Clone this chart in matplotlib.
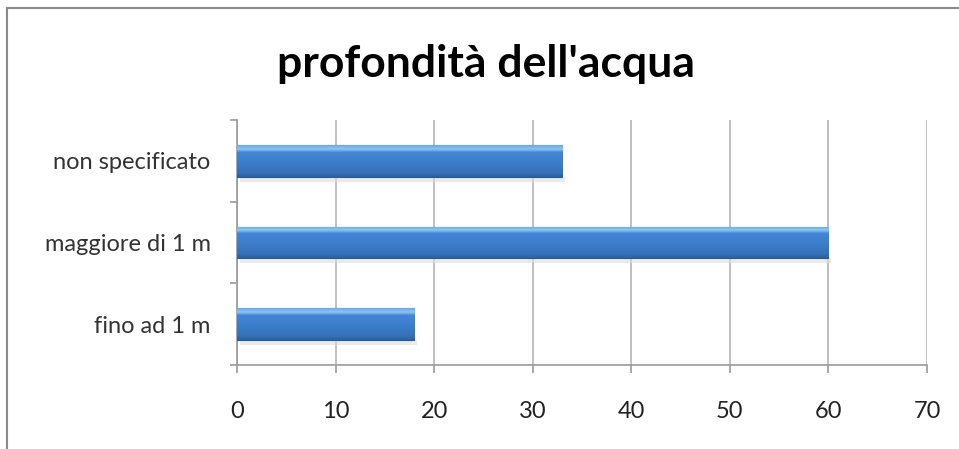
import matplotlib
matplotlib.use("Agg")
import matplotlib.pyplot as plt
import numpy as np
from matplotlib.colors import LinearSegmentedColormap
from matplotlib.lines import Line2D

categories = ["fino ad 1 m", "maggiore di 1 m", "non specificato"]
values = [18, 60, 33]
xticks = [0, 10, 20, 30, 40, 50, 60, 70]
title = "profondità dell'acqua"

plt.rcParams['font.family'] = ['Lato', 'DejaVu Sans']

fig = plt.figure(figsize=(9.59, 4.49), dpi=100)
ax = fig.add_axes([0.2471, 0.187, 0.7195, 0.546])

ypos = np.arange(len(categories))
bars = ax.barh(ypos, values, height=0.39, color='#3d7ccb', edgecolor='#2a5a92',
               linewidth=0.8, zorder=3)

cmap = LinearSegmentedColormap.from_list('bar', [
    (0.0, '#2d5f9e'), (0.12, '#3570b8'), (0.5, '#3e7fcd'),
    (0.78, '#4586d4'), (0.88, '#8cc6f4'), (1.0, '#6aa8e6')])
grad = np.linspace(0, 1, 64).reshape(-1, 1)
for b in bars:
    x0, y0 = b.get_x(), b.get_y()
    w, h = b.get_width(), b.get_height()
    im = ax.imshow(grad, cmap=cmap, origin='lower', aspect='auto',
                   extent=(x0, x0 + w, y0, y0 + h), zorder=3.5)
    im.set_clip_path(b)
    # subtle shadow
    ax.add_patch(plt.Rectangle((x0 + 0.3, y0 - 0.06), w, 0.06,
                               facecolor='#dcdcdc', edgecolor='none', alpha=0.6, zorder=2.5))

ax.set_xlim(0, 70)
ax.set_ylim(-0.5, 2.5)
ax.set_xticks(xticks)
ax.set_xticklabels([str(t) for t in xticks])
ax.set_yticks(ypos)
ax.set_yticklabels(categories)
ax.set_yticks([-0.5, 0.5, 1.5, 2.5], minor=True)

ax.xaxis.grid(True, color='#b5b5b5', linewidth=1.2, zorder=1)
ax.set_axisbelow(True)
for s in ['top', 'right']:
    ax.spines[s].set_visible(False)
for s in ['left', 'bottom']:
    ax.spines[s].set_color('#9a9a9a')
    ax.spines[s].set_linewidth(1.2)

ax.tick_params(axis='x', length=6, width=1.2, color='#9a9a9a', pad=20,
               labelsize=17, labelcolor='#222222')
ax.tick_params(axis='y', which='major', length=0, pad=19, labelsize=17,
               labelcolor='#333333')
ax.tick_params(axis='y', which='minor', length=5, width=1.2, color='#9a9a9a')

fig.text(0.507, 0.858, title, ha='center', va='center', fontsize=32,
         fontweight='bold', color='black')

# outer chart border (left and top)
fig.add_artist(Line2D([0.0078, 0.0078], [0.0, 0.982], transform=fig.transFigure,
                      color='#8a8a8a', linewidth=1.5))
fig.add_artist(Line2D([0.0078, 1.0], [0.982, 0.982], transform=fig.transFigure,
                      color='#8a8a8a', linewidth=1.5))

fig.savefig('out.png', dpi=100)
